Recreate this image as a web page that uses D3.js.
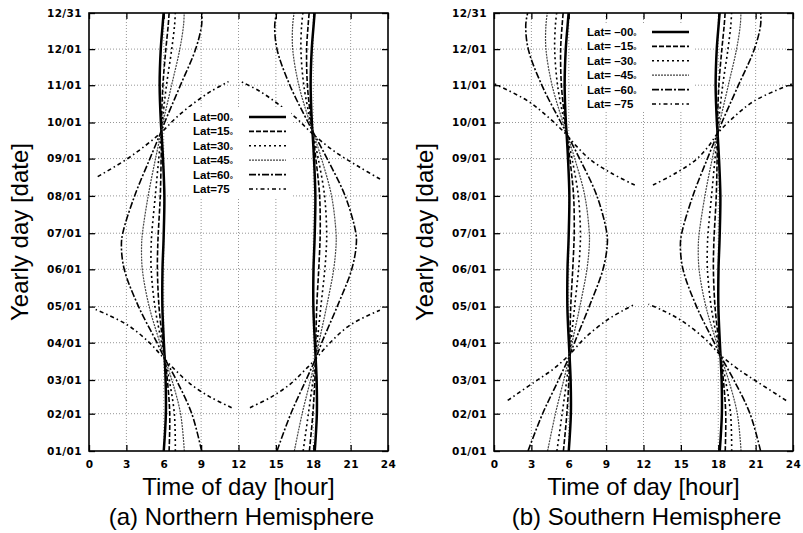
<!DOCTYPE html>
<html>
<head>
<meta charset="utf-8">
<script src="https://d3js.org/d3.v7.min.js"></script>
<style>
body { margin: 0; background: #fff; }
svg { font-family: "Liberation Sans", Arial, sans-serif; }
</style>
</head>
<body>
<svg width="803" height="533"></svg>
<script>
var days = [1, 32, 60, 79, 91, 121, 152, 172, 182, 213, 244, 266, 274, 305, 335, 355, 365];

// Axis ticks
var dateTicks = [1, 32, 60, 91, 121, 152, 182, 213, 244, 274, 305, 335, 365];
var dateLabels = ["01/01", "02/01", "03/01", "04/01", "05/01", "06/01", "07/01",
                  "08/01", "09/01", "10/01", "11/01", "12/01", "12/31"];
var hourTicks = [0, 3, 6, 9, 12, 15, 18, 21, 24];

// Northern hemisphere, hour of sunrise / sunset for each entry of days
var riseN00 = [6.0, 6.17, 6.15, 6.07, 6.01, 5.89, 5.9, 5.97, 6.0, 6.05, 5.94, 5.82, 5.77, 5.67, 5.76, 5.91, 5.99];
var setN00  = [18.12, 18.29, 18.27, 18.19, 18.13, 18.01, 18.02, 18.09, 18.12, 18.17, 18.06, 17.94, 17.89, 17.79, 17.88, 18.03, 18.11];
var riseN15 = [6.43, 6.48, 6.29, 6.07, 5.93, 5.62, 5.49, 5.52, 5.56, 5.72, 5.79, 5.82, 5.82, 5.93, 6.17, 6.36, 6.43];
var setN15  = [17.69, 17.97, 18.13, 18.19, 18.21, 18.28, 18.44, 18.53, 18.56, 18.51, 18.21, 17.94, 17.84, 17.53, 17.47, 17.59, 17.67];
var riseN30 = [6.93, 6.85, 6.44, 6.06, 5.83, 5.29, 4.99, 4.99, 5.04, 5.32, 5.6, 5.81, 5.88, 6.22, 6.64, 6.87, 6.93];
var setN30  = [17.19, 17.61, 17.98, 18.2, 18.31, 18.61, 18.93, 19.06, 19.08, 18.91, 18.4, 17.95, 17.79, 17.24, 17.01, 17.07, 17.17];
var riseN45 = [7.65, 7.35, 6.65, 6.04, 5.69, 4.83, 4.28, 4.22, 4.29, 4.75, 5.34, 5.79, 5.94, 6.63, 7.29, 7.59, 7.64];
var setN45  = [16.48, 17.11, 17.78, 18.22, 18.45, 19.07, 19.64, 19.83, 19.83, 19.47, 18.66, 17.97, 17.72, 16.84, 16.35, 16.35, 16.46];
var riseN60 = [9.04, 8.25, 7.01, 6.02, 5.46, 3.98, 2.83, 2.6, 2.71, 3.66, 4.89, 5.77, 6.07, 7.34, 8.56, 9.04, 9.05];
var setN60  = [15.09, 16.2, 17.42, 18.24, 18.68, 19.92, 21.09, 21.45, 21.42, 20.56, 19.11, 17.99, 17.59, 16.12, 15.09, 14.91, 15.06];
// Lat 75 has polar day / night, so it is kept as branches of [day, hour]
var riseN75 = [
    [[37, 11.45], [46, 9.7], [57, 8.1], [67, 7.05], [77, 6.1], [91, 4.85], [106, 3.05], [119, 0.45]],
    [[229, 0.7], [243, 2.95], [255, 4.55], [266, 5.83], [278, 7.0], [290, 8.4], [300, 9.8], [308, 11.2]]
];
var setN75 = [
    [[37, 12.92], [46, 14.65], [57, 16.2], [67, 17.2], [77, 18.15], [91, 19.35], [106, 21.0], [118, 23.35]],
    [[227, 23.36], [237, 21.7], [250, 19.7], [265, 17.9], [278, 16.6], [290, 15.1], [300, 13.7], [308, 12.2]]
];

// Southern hemisphere
var riseS00 = riseN00;
var setS00  = setN00;
var riseS15 = [5.57, 5.85, 6.01, 6.07, 6.09, 6.16, 6.32, 6.41, 6.44, 6.39, 6.09, 5.82, 5.72, 5.41, 5.35, 5.47, 5.55];
var setS15  = [18.56, 18.6, 18.41, 18.19, 18.05, 17.74, 17.61, 17.64, 17.68, 17.84, 17.91, 17.94, 17.94, 18.05, 18.29, 18.48, 18.55];
var riseS30 = [5.05, 5.47, 5.84, 6.06, 6.17, 6.47, 6.79, 6.92, 6.94, 6.77, 6.26, 5.81, 5.65, 5.1, 4.87, 4.93, 5.03];
var setS30  = [19.08, 18.99, 18.58, 18.2, 17.97, 17.43, 17.13, 17.13, 17.18, 17.46, 17.74, 17.95, 18.02, 18.36, 18.78, 19.01, 19.07];
var riseS45 = [4.3, 4.93, 5.6, 6.04, 6.27, 6.89, 7.46, 7.65, 7.65, 7.29, 6.48, 5.79, 5.54, 4.66, 4.17, 4.17, 4.28];
var setS45  = [19.83, 19.53, 18.83, 18.22, 17.87, 17.01, 16.46, 16.4, 16.47, 16.93, 17.52, 17.97, 18.12, 18.81, 19.47, 19.77, 19.82];
var riseS60 = [2.73, 3.9, 5.18, 6.02, 6.46, 7.64, 8.75, 9.09, 9.06, 8.26, 6.87, 5.77, 5.37, 3.84, 2.75, 2.55, 2.7];
var setS60  = [21.4, 20.55, 19.25, 18.24, 17.68, 16.26, 15.17, 14.96, 15.07, 15.96, 17.13, 17.99, 18.29, 19.62, 20.9, 21.4, 21.41];
var riseS75 = [
    [[43, 1.1], [58, 3.2], [69, 4.75], [80, 5.95], [95, 7.3], [110, 9.1], [118, 10.4], [123, 11.3]],
    [[222, 11.3], [232, 9.4], [243, 7.75], [254, 6.65], [265, 5.72], [278, 4.4], [292, 2.7], [306, 0.05]]
];
var setS75 = [
    [[43, 23.45], [58, 21.2], [69, 19.6], [80, 18.25], [95, 16.85], [110, 14.95], [118, 13.5], [123, 12.4]],
    [[222, 12.76], [232, 14.6], [243, 16.2], [254, 17.2], [265, 17.95], [278, 19.2], [292, 20.9], [306, 23.9]]
];

var legendN = ["Lat=00", "Lat=15", "Lat=30", "Lat=45", "Lat=60", "Lat=75"];
var legendS = ["Lat= \u201300", "Lat= \u201315", "Lat= \u201330", "Lat= \u201345", "Lat= \u201360", "Lat= \u201375"];

// Line style of each latitude (0, 15, 30, 45, 60, 75)
var latStyles = [
    {dash: null, width: 2.5, color: "#000"},
    {dash: "5,2", width: 1.6, color: "#000"},
    {dash: "2,3", width: 1.6, color: "#000"},
    {dash: "2,1", width: 1.2, color: "#444"},
    {dash: "7,2,2,2", width: 1.6, color: "#000"},
    {dash: "4,3,1.5,3", width: 1.6, color: "#000"}
];

var plotTop = 13;
var plotBottom = 451;
var plotW = 299;

var panels = [
    {left: 89, rise: [riseN00, riseN15, riseN30, riseN45, riseN60], set: [setN00, setN15, setN30, setN45, setN60],
     polarRise: riseN75, polarSet: setN75, legend: legendN, legendX: 104, legendY: 117, legendBox: [100, 107, 102, 92],
     caption: "(a) Northern Hemisphere"},
    {left: 494, rise: [riseS00, riseS15, riseS30, riseS45, riseS60], set: [setS00, setS15, setS30, setS45, setS60],
     polarRise: riseS75, polarSet: setS75, legend: legendS, legendX: 93, legendY: 32, legendBox: [88, 23, 112, 88],
     caption: "(b) Southern Hemisphere"}
];

var svg = d3.select("svg");

var x = d3.scaleLinear().domain([0, 24]).range([0, plotW]);
var y = d3.scaleLinear().domain([1, 365]).range([plotBottom, plotTop]);

var line = d3.line()
    .x(function(d) { return x(d[1]); })
    .y(function(d) { return y(d[0]); })
    .curve(d3.curveCatmullRom.alpha(0.5));

function styleLine(sel, s) {
    sel.attr("fill", "none")
        .attr("stroke", s.color)
        .attr("stroke-width", s.width)
        .attr("stroke-dasharray", s.dash);
}

panels.forEach(function(p, pi) {
    var g = svg.append("g").attr("transform", "translate(" + p.left + ",0)");

    // Clip for the curves
    g.append("clipPath").attr("id", "clip" + pi)
        .append("rect")
        .attr("x", 0).attr("y", plotTop)
        .attr("width", plotW).attr("height", plotBottom - plotTop);

    // Grid
    var grid = g.append("g")
        .attr("stroke", "#8a8a8a")
        .attr("stroke-width", 0.9)
        .attr("stroke-dasharray", "1,2");
    grid.selectAll(".gx").data(hourTicks.slice(1, -1))
        .enter().append("line")
        .attr("x1", function(d) { return x(d); }).attr("x2", function(d) { return x(d); })
        .attr("y1", plotTop).attr("y2", plotBottom);
    grid.selectAll(".gy").data(dateTicks.slice(1, -1))
        .enter().append("line")
        .attr("x1", 0).attr("x2", plotW)
        .attr("y1", function(d) { return y(d); }).attr("y2", function(d) { return y(d); });

    // Curves
    var curves = g.append("g").attr("clip-path", "url(#clip" + pi + ")");
    [p.rise, p.set].forEach(function(group) {
        group.forEach(function(arr, li) {
            var pts = days.map(function(d, i) { return [d, arr[i]]; });
            curves.append("path").datum(pts)
                .attr("d", line)
                .call(styleLine, latStyles[li]);
        });
    });
    p.polarRise.concat(p.polarSet).forEach(function(branch) {
        curves.append("path").datum(branch)
            .attr("d", line)
            .call(styleLine, latStyles[5]);
    });

    // Legend with white background
    var lb = p.legendBox;
    var leg = g.append("g");
    leg.append("rect")
        .attr("x", lb[0]).attr("y", lb[1])
        .attr("width", lb[2]).attr("height", lb[3])
        .attr("fill", "#fff");
    p.legend.forEach(function(label, i) {
        var ly = p.legendY + i * 14.4;
        var t = leg.append("text")
            .attr("x", p.legendX).attr("y", ly + 4)
            .attr("font-size", 11.5)
            .attr("font-weight", "bold")
            .text(label);
        if (i < 5) {
            t.append("tspan").attr("font-size", 8).attr("dy", 3).text("\u00b0");
        }
        leg.append("line")
            .attr("x1", lb[0] + lb[2] - 42).attr("x2", lb[0] + lb[2] - 5)
            .attr("y1", ly).attr("y2", ly)
            .call(styleLine, latStyles[i]);
    });

    // Axes with inward ticks
    var fontTick = "'DejaVu Sans', sans-serif";
    var ax = g.append("g")
        .attr("transform", "translate(0," + plotBottom + ")")
        .call(d3.axisBottom(x).tickValues(hourTicks).tickSize(-6).tickPadding(10));
    var ay = g.append("g")
        .call(d3.axisLeft(y).tickValues(dateTicks)
            .tickFormat(function(d, i) { return dateLabels[i]; })
            .tickSize(-6).tickPadding(7));
    var at = g.append("g")
        .attr("transform", "translate(0," + plotTop + ")")
        .call(d3.axisTop(x).tickValues(hourTicks).tickSize(-6).tickFormat(""));
    var ar = g.append("g")
        .attr("transform", "translate(" + plotW + ",0)")
        .call(d3.axisRight(y).tickValues(dateTicks).tickSize(-6).tickFormat(""));
    [ax, ay, at, ar].forEach(function(a) {
        a.select(".domain").remove();
        a.selectAll("line").attr("stroke-width", 1.3);
        a.selectAll("text")
            .attr("font-family", fontTick)
            .attr("font-weight", "bold")
            .attr("font-size", 10.5)
            .attr("letter-spacing", 0.4)
            .attr("fill", "#000");
    });

    // Border
    g.append("rect")
        .attr("x", 0).attr("y", plotTop)
        .attr("width", plotW).attr("height", plotBottom - plotTop)
        .attr("fill", "none")
        .attr("stroke", "#000")
        .attr("stroke-width", 1.6);

    // Titles
    g.append("text")
        .attr("transform", "translate(-61," + ((plotTop + plotBottom) / 2) + ") rotate(-90)")
        .attr("text-anchor", "middle")
        .attr("font-size", 24)
        .text("Yearly day [date]");
    g.append("text")
        .attr("x", plotW / 2).attr("y", 495)
        .attr("text-anchor", "middle")
        .attr("font-size", 24)
        .text("Time of day [hour]");
    g.append("text")
        .attr("x", plotW / 2 + 3).attr("y", 525)
        .attr("text-anchor", "middle")
        .attr("font-size", 24)
        .text(p.caption);
});
</script>
</body>
</html>
